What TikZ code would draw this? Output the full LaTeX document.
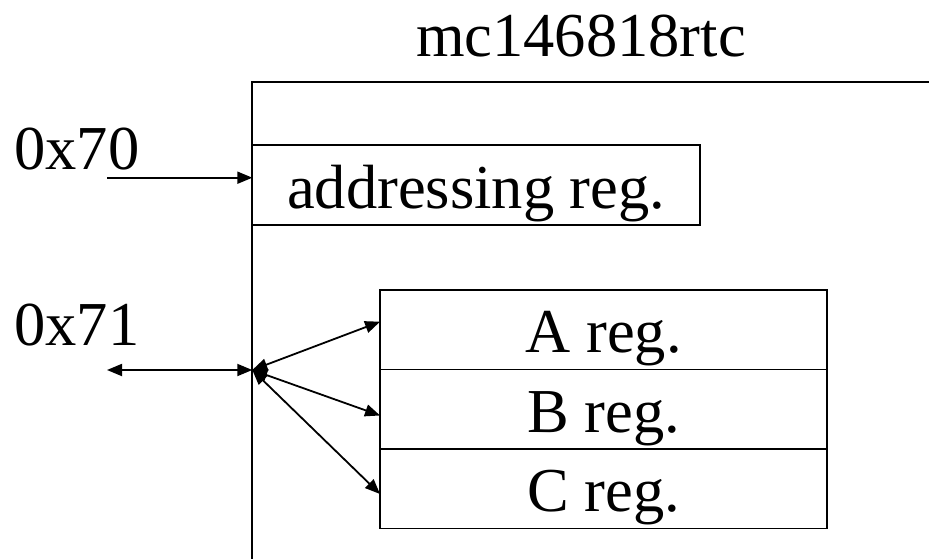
\documentclass[tikz,border=0pt]{standalone}
\usepackage{fontspec}
\setmainfont{Liberation Serif}
\usetikzlibrary{arrows.meta}

\begin{document}
\begin{tikzpicture}[x=1pt,y=-1pt,
  line width=1.8pt,
  big/.style={font=\fontsize{62.5}{75}\selectfont},
  regbox/.style={draw,big,inner sep=0pt,text height=50pt,text depth=4pt,
    minimum height=79.5pt,outer sep=0pt},
  label/.style={big,inner sep=0pt},
  tip/.style={-{Triangle[length=15pt,width=12pt]}},
  dtip/.style={{Triangle[length=15pt,width=12pt]}-{Triangle[length=15pt,width=12pt]}},
]
\useasboundingbox (0,0) rectangle (929,559);

% chip outline (open to the right and bottom)
\coordinate (chipTR) at (929,81.7);
\coordinate (chipTL) at (252.3,81.7);
\coordinate (chipBL) at (252.3,559);
\draw (chipTR) -- (chipTL) -- (chipBL);

\node[label,anchor=base] (chip) at (581,56.7) {mc146818rtc};

% address register
\node[regbox,minimum width=447.7pt] (addr) at (476.2,185) {addressing reg.};

% data registers
\node[regbox,minimum width=447.3pt] (rA) at (603.7,329.7) {A reg.};
\node[regbox,minimum width=447.3pt,anchor=north] (rB) at (rA.south) {B reg.};
\node[regbox,minimum width=447.3pt,anchor=north] (rC) at (rB.south) {C reg.};

% port labels
\node[label,anchor=base west] (p70) at (13.5,170) {0x70};
\node[label,anchor=base west] (p71) at (13.5,345) {0x71};

% connectors
\coordinate (in70) at (107,177.7);
\coordinate (in71) at (107,370);
\coordinate (hub) at (252.3,370);

\draw[tip] (in70) -- (addr.west |- in70);
\draw[dtip] (in71) -- (hub);
\draw[dtip] (hub) -- ([yshift=8pt]rA.west);
\draw[dtip] (hub) -- ([yshift=-6.3pt]rB.west);
\draw[dtip] (hub) -- ([yshift=-5.3pt]rC.west);
\end{tikzpicture}
\end{document}
